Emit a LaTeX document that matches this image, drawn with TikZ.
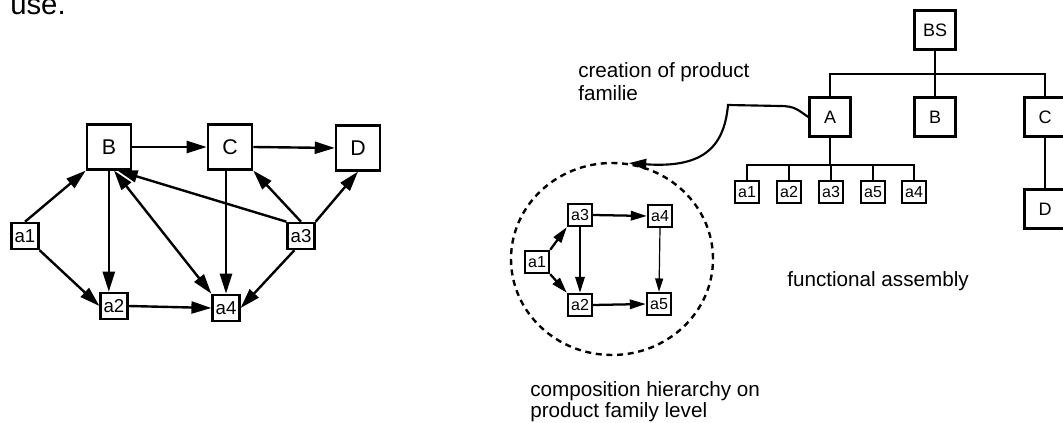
\documentclass[tikz,border=0pt]{standalone}
\usepackage{fontspec}
\setmainfont{Liberation Sans}
\usetikzlibrary{arrows.meta,shapes.geometric,calc}
\begin{document}
\begin{tikzpicture}[x=0.75pt,y=-0.75pt,
  bigbox/.style={draw, line width=1.9pt, minimum width=33pt, minimum height=33.5pt, inner sep=0pt, font=\fontsize{16}{18}\selectfont},
  smallbox/.style={draw, line width=1.9pt, minimum width=20pt, minimum height=19.5pt, inner sep=0pt, font=\fontsize{14}{15}\selectfont},
  treebig/.style={draw, line width=1.9pt, minimum width=30.75pt, minimum height=29.25pt, inner sep=0pt, font=\fontsize{13.5}{15}\selectfont},
  treesmall/.style={draw, line width=1.8pt, minimum width=18pt, minimum height=16.5pt, inner sep=0pt, font=\fontsize{12}{13}\selectfont},
  edge/.style={line width=1.8pt, -{Triangle[length=15pt,width=9pt]}},
  iedge/.style={line width=1.7pt, -{Triangle[length=12pt,width=7pt]}},
  thinedge/.style={line width=0.9pt, -{Triangle[length=10pt,width=6pt]}},
  tline/.style={line width=1.8pt},
  lbl/.style={anchor=base west, inner sep=0pt, font=\fontsize{15.5}{18}\selectfont}
]
\useasboundingbox (0,0) rectangle (1063,423);

% top fragment
\node[anchor=base west, inner sep=0pt, font=\fontsize{22}{26}\selectfont] (use) at (10,15) {use.};

% ---------- left graph ----------
\node[bigbox] (B) at (109,147) {B};
\node[bigbox] (C) at (230,147) {C};
\node[bigbox] (D) at (358,148) {D};
\node[smallbox] (a1) at (25,236) {a1};
\node[smallbox] (a3) at (301,236) {a3};
\node[smallbox] (a2) at (114,306) {a2};
\node[smallbox] (a4) at (226,308) {a4};

\draw[edge] (a1.north) -- (B.south west);
\draw[edge] (a1.south east) -- (a2.west);
\draw[edge] (B.east) -- (C.west);
\draw[edge] (C.east) -- (D.west);
\draw[edge] (B.south -| a2.110) -- (a2.110);
\draw[edge] (C.south -| a4.north) -- (a4.north);
\draw[edge, {Triangle[length=15pt,width=9pt]}-{Triangle[length=15pt,width=9pt]}] (B.-78) -- (a4.north west);
\draw[edge] (a3.north west) -- (B.-70);
\draw[edge] (a3.north) -- (C.south east);
\draw[edge] (a3.north east) -- (D.south);
\draw[edge] (a3.-115) -- (a4.east);
\draw[edge] (a2.east) -- (a4.west);

% ---------- composition hierarchy (circle) ----------
\node[draw, ellipse, dash pattern=on 4.5pt off 3.5pt, line width=1.8pt,
      minimum width=151.5pt, minimum height=144pt, inner sep=0pt] (circ) at (612,259) {};
\node[treesmall] (ia3) at (580,215) {a3};
\node[treesmall] (ia4) at (660,216) {a4};
\node[treesmall] (ia1) at (537,262) {a1};
\node[treesmall] (ia2) at (580,305) {a2};
\node[treesmall] (ia5) at (659,304) {a5};

\draw[iedge] (ia3.east) -- (ia4.west);
\draw[iedge] (ia1.north east) -- (ia3.south west);
\draw[iedge] (ia1.south east) -- (ia2.north west);
\draw[iedge] (ia3.south) -- (ia2.north);
\draw[thinedge] (ia4.south) -- (ia5.north);
\draw[iedge] (ia2.east) -- (ia5.west);

% ---------- functional assembly tree ----------
\node[treebig] (BS) at (935,30) {BS};
\node[treebig] (A) at (830,117) {A};
\node[treebig] (TB) at (935,117) {B};
\node[treebig] (TC) at (1045,117) {C};
\node[treebig] (TD) at (1045,209) {D};
\node[treesmall] (t1) at (747,192) {a1};
\node[treesmall] (t2) at (789,192) {a2};
\node[treesmall] (t3) at (831,192) {a3};
\node[treesmall] (t5) at (873,192) {a5};
\node[treesmall] (t4) at (914,192) {a4};

\coordinate (bar1) at (935,74);
\coordinate (bar2) at (830,165);
\draw[tline] (BS.south) -- (bar1) -- (TB.north);
\draw[tline] (A.north) |- (bar1) -| (TC.north);
\draw[tline] (TC.south) -- (TD.north);
\draw[tline] (A.south) -- (bar2);
\draw[tline] (t1.north) |- (bar2) -| (t4.north);
\draw[tline] (t2.north) |- (bar2);
\draw[tline] (t3.north) |- (bar2);
\draw[tline] (t5.north) |- (bar2);

% creation link
\draw[line width=1.6pt, -{Triangle[length=13pt,width=8pt]}]
  (A.west) .. controls (798,110) and (795,106) .. (780,106) -- (728,105)
  .. controls (724,150) and (700,168) .. (circ.80);

% ---------- labels ----------
\node[lbl] (l1) at (578,78) {creation of product};
\node[lbl] (l2) at (578,101) {familie};
\node[lbl] (l3) at (787,287) {functional assembly};
\node[lbl] (l4) at (530,397) {composition hierarchy on};
\node[lbl] (l5) at (530,418) {product family level};
\end{tikzpicture}
\end{document}
